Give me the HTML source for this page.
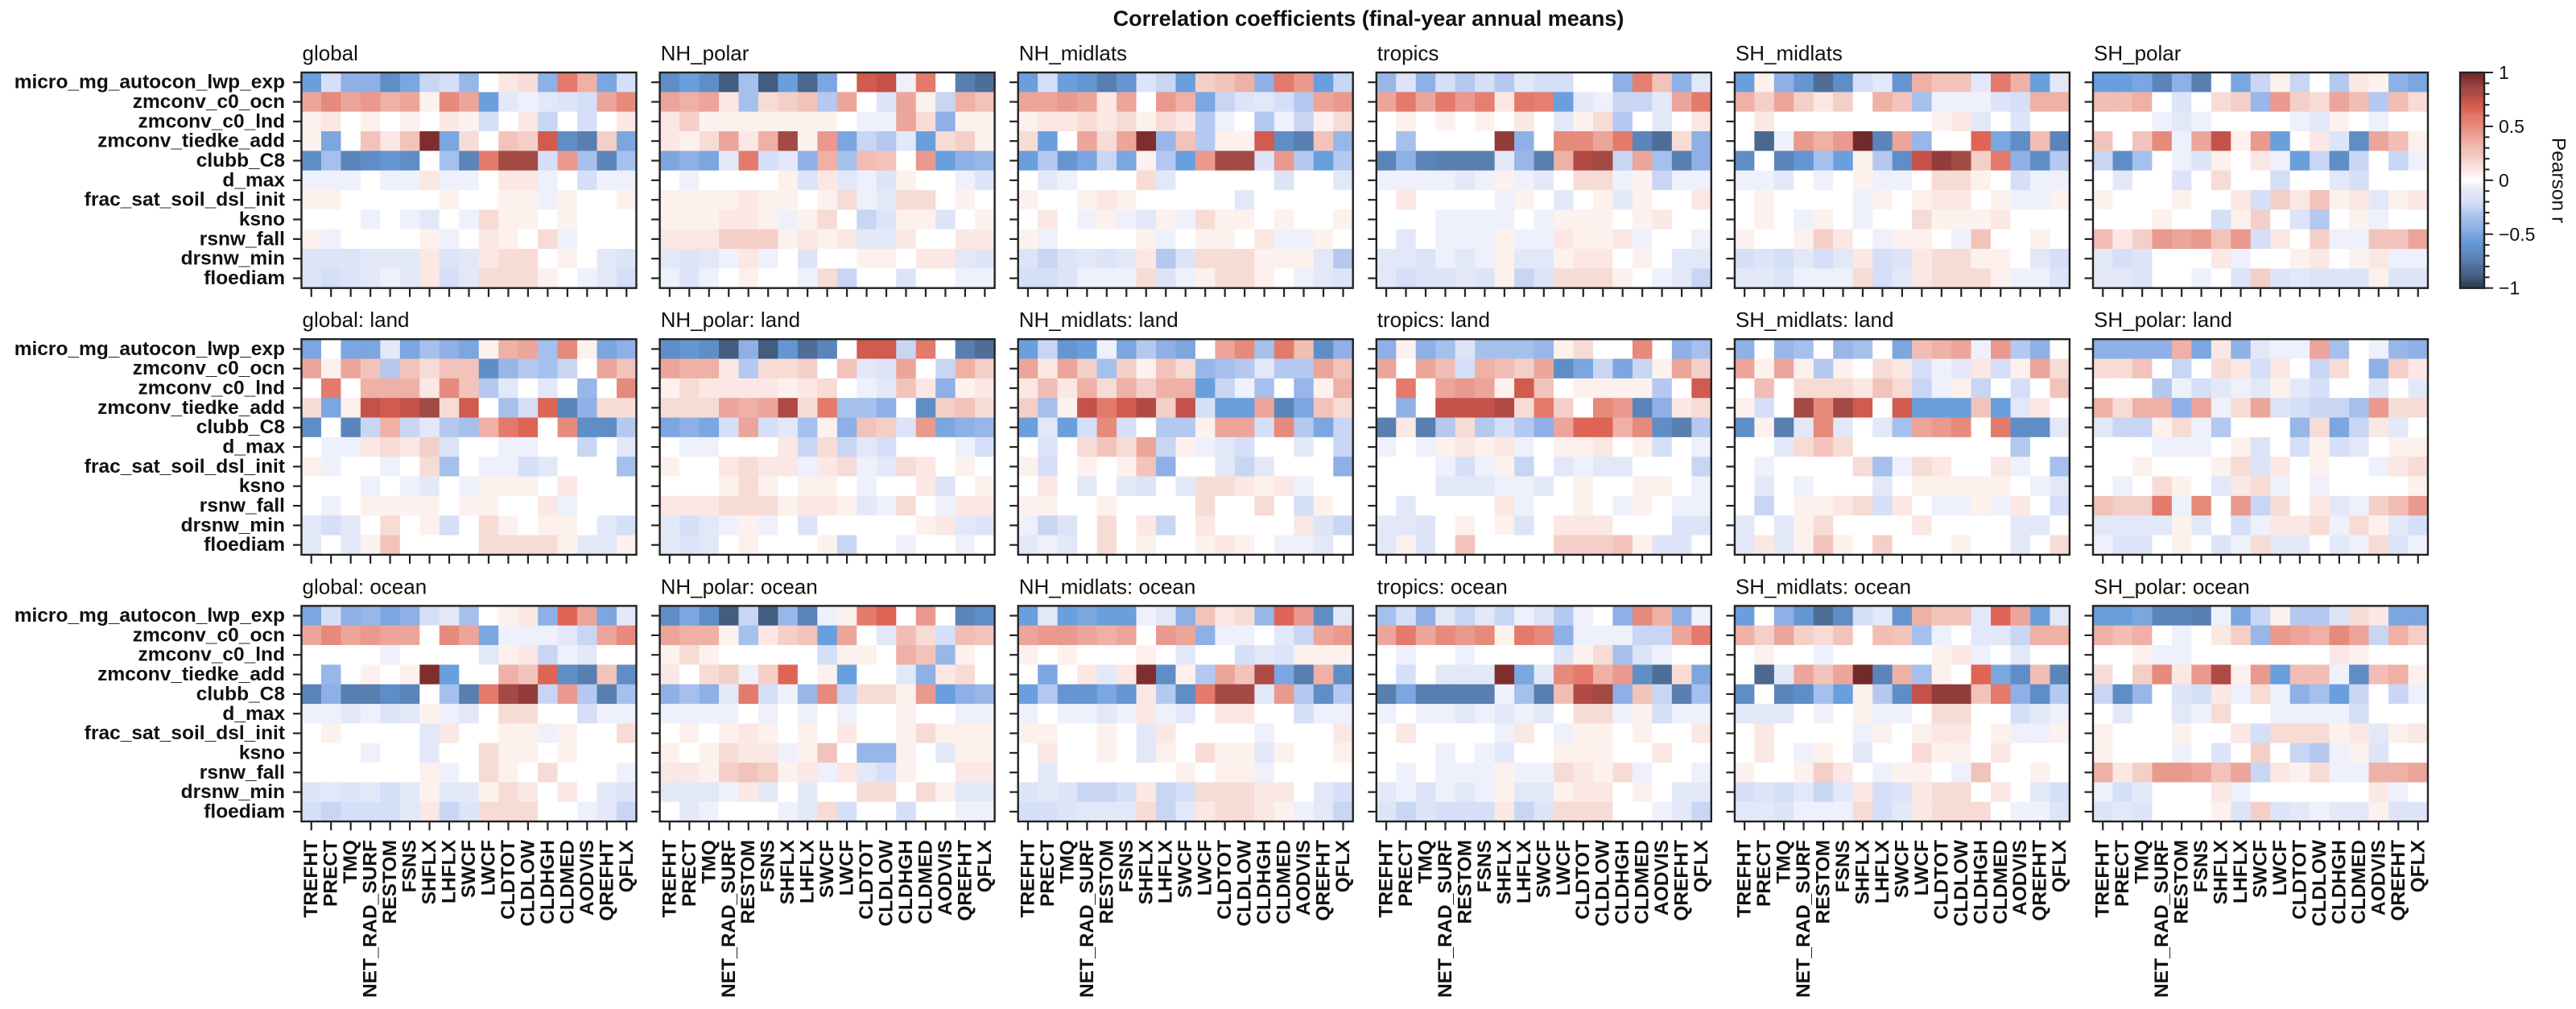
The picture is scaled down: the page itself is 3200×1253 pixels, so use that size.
<!DOCTYPE html>
<html><head><meta charset="utf-8">
<style>
html,body{margin:0;padding:0;background:#fff;width:3200px;height:1253px;overflow:hidden}
svg{display:block}
text{font-family:"Liberation Sans",Arial,Helvetica,sans-serif;fill:#111}
</style></head><body>
<svg id="fig" xmlns="http://www.w3.org/2000/svg" width="3200" height="1253" viewBox="0 0 3200 1253">
<defs><linearGradient id="cb" x1="0" y1="1" x2="0" y2="0"></linearGradient></defs>
<rect x="0" y="0" width="3200" height="1253" fill="#ffffff"/>
<text x="1700" y="32" font-weight="bold" font-size="27" text-anchor="middle">Correlation coefficients (final-year annual means)</text>
</svg>
<script>
(function(){
const NS='http://www.w3.org/2000/svg';
const svg=document.getElementById('fig');
function el(tag,attrs,text,parent){const e=document.createElementNS(NS,tag);for(const k in attrs)e.setAttribute(k,attrs[k]);if(text!=null)e.textContent=text;(parent||svg).appendChild(e);return e;}
const NEG=['#eef1fb','#e3e8f9','#dde4f8','#d5dff7','#c8d6f4','#b4c8f0','#a5c0ed','#98b6e7','#8eb0e6','#7ba6e0','#6a9fdd','#6596d2','#5f8ec7','#5b85ba','#587fb0','#4f6e97','#4a6890','#425d7f','#354860','#2c3b50'];
const POS=['#fdf1ee','#fbe7e3','#f7dcd6','#f4cfc8','#f2c3bb','#f1bdb4','#efb0a6','#eca59a','#e9998d','#e68a7c','#e47f71','#e37a6c','#de6556','#d05b4e','#c5524a','#b04a45','#a34a45','#923c3b','#7f2e2e','#702a2b'];
function col(c){if(c==='0')return '#ffffff';const k=c.charCodeAt(0);if(k>=97)return NEG[Math.min(19,k-97)];return POS[Math.min(19,k-65)];}
const rows=['micro_mg_autocon_lwp_exp','zmconv_c0_ocn','zmconv_c0_lnd','zmconv_tiedke_add','clubb_C8','d_max','frac_sat_soil_dsl_init','ksno','rsnw_fall','drsnw_min','floediam'];
const cols=['TREFHT','PRECT','TMQ','NET_RAD_SURF','RESTOM','FSNS','SHFLX','LHFLX','SWCF','LWCF','CLDTOT','CLDLOW','CLDHGH','CLDMED','AODVIS','QREFHT','QFLX'];
const regions=['global','NH_polar','NH_midlats','tropics','SH_midlats','SH_polar'];
const sfx=['',': land',': ocean'];
const D=[
["kdiimjedh0BCiLGjd","HJHIGHAJHkbabcdHJ","AB0A0A0BAd0Be0d0B","Aj0EBESjC0EDNmoDj","mgnmlm0gnLQQdIgng","aaa0aaBaa0BBa0daa","AA00000A00AAaA00A","000a0ab0aCAA0A000","Aa0000Aa0BA0Ca000","cccbbbBcbBCC0A0bc","cdcbabBdbCCCA0abd"],
["mkmrgrkqj0NOaL0op","HGHBgCDEfH0cHAeGE","BDAAAAAAA0aaHCiAA","BACHBGQAIjefbkCDA","jijbLdbiGgFE0Ikih","0a0000AcBbacA00ac","AAAABAA0ACabCC0A0","AAABBAaAC0ecAAc0A","BBBDDDABABbbB00BB","bcbaBa0c00AA0BBbc","aca0A00aCe00c00aa"],
["kdklolcekDEGiLIke","HHIHBH0IGjecbdfHI","ABBCBCACBfa0faeAC","Ck0HCHShEfAANmoEh","kfljejAfkIQQcIfkf","0ba000Cb00000c00b","A00ABA00000b00000","0B0aAabAaCAA0A00A","Aa0000Aa0AA0BaaA0","cecbcbBfcCCCAAAbf","ddcaaaCcaACCA0abc"],
["hcidfdfbdd00iKEib","HLHLIKBLKkbaeebHL","0A0A0A0B0bACf0b0B","0g0000Ri0JJHLnpCi","ninooobhoGPQeHgoi","aaaabaAab0CCaAeaa","0B0000aA0b0AbA00B","000aaaa0aAAA0AB00","0b0aaaAaaBAABa00a","bbcabaAbbABB0A0bb","bdccbcAecCCCA0abe"],
["kAilpmdblGEEbLGkb","GDHDBD0GEgaaacdGG","0B00000000ABb0c00","0qaIGITnHh00MjmFn","m0nlgkAfmORQDLimf","aab0a0Aaa0CCA0daa","0A0000aA0ABB0AaaA","0A0aA0a00CAAAB000","A00ADB0aAA0aE00A0","dcdbdbBdcBCCAA0bd","bbcaaaCdbBCCCAaac"],
["kkjnio0jeAe0fBAij","FFG0c0CDhIDCHFfFC","000aba0000abA0a00","E0EJaHOAIk0BcmHFA","emg0acA0Bakeme0ea","0b00c0C00d00bd000","A000A00BdDBEABbAB","000A00dAD0cf0Aa00","FBDIHIEIdB0DaaEEH","bdc000Ba00AB0ABaa","bbc00a0cDcbcccAcc"],
["j0jjbjgijAGHgJAji","HAHEfECEEmhfge0HE","0L0GGGBJEfb0b0h0J","CjAONOQCN0gdMniCC","m0neGebfgGLM0Jmmf","0aaBCBDc00aa00e0b","Aa00a0Cg0aadb000g","000a0ab0aAAA0B000","0a0AAAA0AA00Ba000","bdb0C0Ad0CA0AA0bd","b0bAE0000CCCCAbbA"],
["mlmrirlpn0NNeL0op","HGGBfCCD0EbcH0eGD","ACBBBBABC0abEBiAB","CCCHGHPCLggi0mDEC","jijdHdbgAiEDcIjih","0aa000BeCebd000ad","A00BCBBaBCabCB0A0","000ACA0AA0a00Bc0A","BBBCCCABBAbaC0aBB","bdbaAa0c00000ABbc","bcb0A000Ae00a00a0"],
["kelkajfij0HJgLFmi","HBHDgDAEChgfbffHE","BFBGCGDGGkeag0hAG","DgAOLNPDOdkkHnjEC","kbkdJd0ffAHHdJfje","0c0CECHeAabd00b0e","Ad0A0AEi00beb000i","0B0b0bc0bCCBABa00","AA00A0000C00C0dA0","aec0C0Be0B0000Bce","bab0C0A00ABA0aab0"],
["iAigcggghAC00J0ig","H0HFdGFDHmjejeAHD","0L0HIHANE0AAAAf0N","0i0OOOPCLD0JIniBC","oBofCfdfiHMMGJmof","a0aABABa0AAB0Ad0a","000adaAe0babb000e","000bbbaab0A00AA0a","0b0000Ba00A0aA0aa","bbc0A0Ac0BBB000cc","bAc0E0000DDDEAcc0"],
["i0hg0hg0jFGHaIfi0","HAHAfA0CBdabBdAHC","0F0CCCBECeaAe0d0E","Ad0QJQN0NkkkEkbB0","mAobJb0bgHIJ0Lmmb","00bCEC00000000f00","0a0000CgaCB00Ba0g","0b0a000b0AAAAA0ab","0e0AABCdB0aaAaB0d","b0bAC0000B0000bb0","bBbAEA0D000A00b0C"],
["iiiiGjBibaaHg0ahi","CCE0e0CBdB0eC0iDB","000fadbabAbd00c0b","GCGGiHaCHcdeegICC","beeACaf000hCjeBb0","000aaa0Ac0dAdb0AA","00A000ACcB0A00aBC","0a0CA0bBCa0a0000A","EDDLaJ0IeC0BbaDFI","bbbbAb0daBBCaCAbd","acc0A0caCbb0baCca"],
["jdihjidbg0ABiMHjb","HJHIHH0JHjaaabeHJ","0000a0000bABeab00","0h0A0ASk00GEMmoEm","nioomn0goLQReIfog","aabacbAab0CC00daa","0A0000bB00AAaA00C","000a00b00CAA0A000","000000Aa0CA0C000a","cbcbdbAbbACB0B0bc","dedddbBecCCC00abe"],
["mjmrerhnaALM0I0nm","HGGAgBDEkH0bFCdFE","ACA00000dAA0GEhA0","B0CDaDM0Ak00biBC0","igibLdahJeCCAIkih","aaaa0a0a0a00A00aa","0A0ABA0A0B00ACAAA","A0ACBBaAE0hhA0bAA","BBADEDABaBbdA00BB","bbbaBb0b00CC0CAbb","0ba000abCd00d00aa"],
["kbkjkkabiEBChMImb","HIIHGH0IHiaa0beHI","A0A000A0b00dbcAAA","0j0BbBSmAfHEPjoGm","kflljlBfmLQQbIfmf","a0aabaBab0BB00daa","AA00A0bB0000a000B","0B00A0bA0CAAbA00A","0b000000A0AAa0000","cbceedBedCCCBB0bd","ddcbbbCebBCCBAabe"],
["gdibebeacfa0iJGia","HLHJIJALJiaaaeeHL","0a00a0000cACgca00","0d0bbbSjbJLGImpCj","ojooooagoFPQiEeog","a0aababab0CCaAdaa","0B0000aB0aAA0A00B","000a0ab00AAA00B00","0a0aaaAaaCBACa00a","bacabaAbbABB0A0bb","cecdddBecCCC00abe"],
["k0ilpmdblGEEbMHkb","GDHDCE0FEga0bbeGG","0A00a00000ABa0b00","0qbHEHTnGgA0MjmFn","m0nmgkAfmORRELimf","bbb0a0Aaa0CC00dba","0B0000aA0ABB0AaaA","0B0aA0b00CAA0B000","A00ADB0aAA0aE00A0","dcdbebBdcBCC0B0bd","bbcaaaCdbBCCC0aac"],
["kkjnnoajeAffcCBjj","GFG0a0BDhIHGJHeGD","00Aaa0000000BA000","C0DJBIPAIkFFamFGA","emh0cdBaCaigke0ea","0b00baC00aaaad000","A000A00BdCCCABbAB","A000a0c0D0efaAc00","GBDIIHEHeBACaaGGH","adb000Ba000000Ba0","cbc000AcDcbabbAcc"]
];
const L0=374.5, DX=445.1, W=416, H=267.7, TOPS=[90,421.2,752.4];
const cw=W/17, chh=H/11;
const K='#222222';
for(let r=0;r<3;r++){
 for(let c=0;c<6;c++){
  const p=D[r*6+c]; const x0=L0+c*DX, y0=TOPS[r];
  const g=el('g',{});
  for(let i=0;i<11;i++){
   let s=(p[i]||'')+'00000000000000000';
   for(let j=0;j<17;j++){
    el('rect',{x:(x0+j*cw).toFixed(2),y:(y0+i*chh).toFixed(2),width:(cw+0.7).toFixed(2),height:(chh+0.7).toFixed(2),fill:col(s[j])},null,g);
   }
  }
  el('rect',{x:x0,y:y0,width:W,height:H,fill:'none',stroke:K,'stroke-width':2.4});
  for(let i=0;i<11;i++){const yy=y0+(i+0.5)*chh;el('line',{x1:x0-10.5,x2:x0-1,y1:yy,y2:yy,stroke:K,'stroke-width':2.2});}
  for(let j=0;j<17;j++){const xx=x0+(j+0.5)*cw;el('line',{x1:xx,x2:xx,y1:y0+H+1,y2:y0+H+11,stroke:K,'stroke-width':2.2});}
  el('text',{x:x0+1,y:y0-15,'font-size':26},regions[c]+sfx[r]);
  if(c===0){
   for(let i=0;i<11;i++){el('text',{x:354,y:y0+(i+0.5)*chh,'font-size':24.5,'font-weight':'bold','text-anchor':'end','dominant-baseline':'central'},rows[i]);}
  }
  if(r===2){
   for(let j=0;j<17;j++){const xx=x0+(j+0.5)*cw;el('text',{transform:'translate('+xx.toFixed(2)+',1043) rotate(-90)','font-size':24.5,'font-weight':'bold','text-anchor':'end','dominant-baseline':'central'},cols[j]);}
  }
 }
}
// colorbar gradient
const grad=document.getElementById('cb');
function stop(off,c){el('stop',{offset:off,'stop-color':c},null,grad);}
for(let k=19;k>=0;k--){stop(((1-0.05*(k+1))/2).toFixed(4),NEG[k]);}
stop('0.5','#ffffff');
for(let k=0;k<20;k++){stop(((1+0.05*(k+1))/2).toFixed(4),POS[k]);}
const cx=3056,cy=90,cW=30,cH=267.7;
el('rect',{x:cx,y:cy,width:cW,height:cH,fill:'url(#cb)',stroke:K,'stroke-width':2.4});
for(let t=-10;t<=10;t++){
 const v=t/10; const yy=cy+(1-v)/2*cH; const major=(t%5===0);
 el('line',{x1:cx+cW,x2:cx+cW+(major?11:6.5),y1:yy,y2:yy,stroke:K,'stroke-width':2});
}
const labs=[[1,'1'],[0.5,'0.5'],[0,'0'],[-0.5,'\u22120.5'],[-1,'\u22121']];
for(const [v,s] of labs){el('text',{x:3104,y:cy+(1-v)/2*cH,'font-size':23,'dominant-baseline':'central'},s);}
el('text',{transform:'translate(3178,224) rotate(90)','font-size':24.5,'text-anchor':'middle','dominant-baseline':'central'},'Pearson r');
})();
</script>
</body></html>
